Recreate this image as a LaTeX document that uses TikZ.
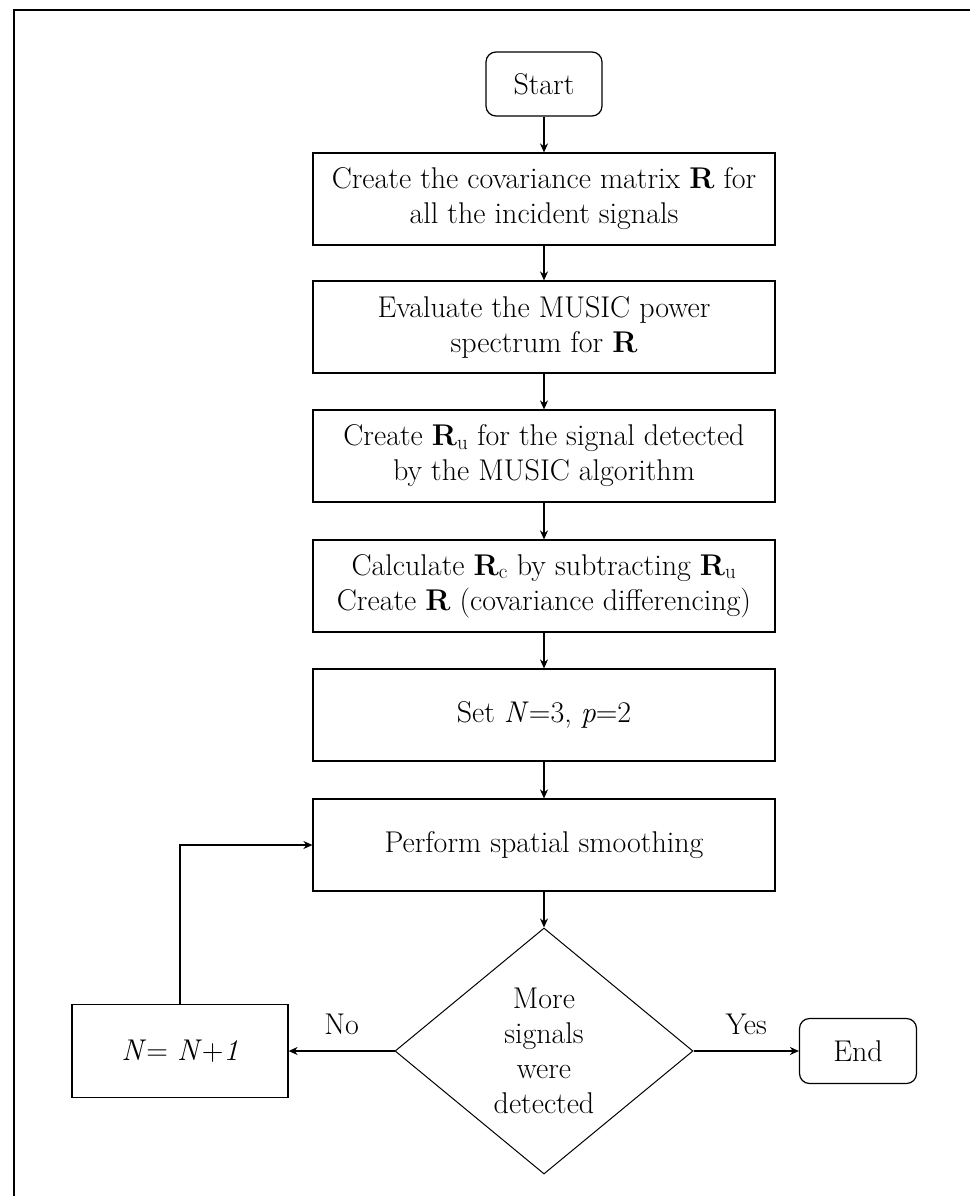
\documentclass[tikz,border=0pt]{standalone}
\usepackage{fontspec}
\usetikzlibrary{shapes.geometric,arrows.meta}

\tikzset{
    stepbox/.style={draw, line width=1.2pt, minimum width=462, minimum height=92, align=center, inner sep=0pt},
    termbox/.style={draw, line width=1.2pt, rounded corners=10pt, align=center, inner sep=0pt},
    decbox/.style={draw, diamond, line width=1pt, minimum width=298, minimum height=246, aspect=1.2, align=center, inner sep=0pt},
    flowarrow/.style={line width=1.6pt, -{Stealth[length=9pt,width=8pt]}}
}

\begin{document}
\begin{tikzpicture}[x=1pt, y=-1pt, font=\fontsize{30}{35}\selectfont]
        \useasboundingbox (0,0) rectangle (970,1196);
        % Outer frame
        \draw[line width=2.6pt] (14,1196) -- (14,10) -- (970,10);

        % Boxes
        \node[termbox, minimum width=116, minimum height=64] (start) at (544,84) {Start};
        \node[stepbox] (cov) at (544,199) {Create the covariance matrix \textbf{R} for\\all the incident signals};
        \node[stepbox] (music) at (544,327) {Evaluate the MUSIC power\\spectrum for \textbf{R}};
        \node[stepbox] (ru) at (544,456) {Create \textbf{R}\textsubscript{u} for the signal detected\\by the MUSIC algorithm};
        \node[stepbox] (rc) at (544,586) {Calculate \textbf{R}\textsubscript{c} by subtracting \textbf{R}\textsubscript{u}\\Create \textbf{R} (covariance differencing)};
        \node[stepbox] (set) at (544,715) {Set \textit{N}=3, \textit{p}=2};
        \node[stepbox] (smooth) at (544,845) {Perform spatial smoothing};
        \node[decbox] (more) at (544,1051) {More\\signals\\were\\detected};
        \node[stepbox, minimum width=216, minimum height=93] (inc) at (180,1051) {\textit{N}= \textit{N}+\textit{1}};
        \node[termbox, minimum width=117, minimum height=65] (stop) at (858,1051) {End};

        % Arrows
        \draw[flowarrow] (start) -- (cov);
        \draw[flowarrow] (cov) -- (music);
        \draw[flowarrow] (music) -- (ru);
        \draw[flowarrow] (ru) -- (rc);
        \draw[flowarrow] (rc) -- (set);
        \draw[flowarrow] (set) -- (smooth);
        \draw[flowarrow] (smooth) -- (more);
        \draw[flowarrow] (more.west) -- node[above=12pt] {No} (inc.east);
        \draw[flowarrow] (more.east) -- node[above=12pt] {Yes} (stop.west);
        \draw[flowarrow] (inc.north) |- (smooth.west);

    \end{tikzpicture}
\end{document}
